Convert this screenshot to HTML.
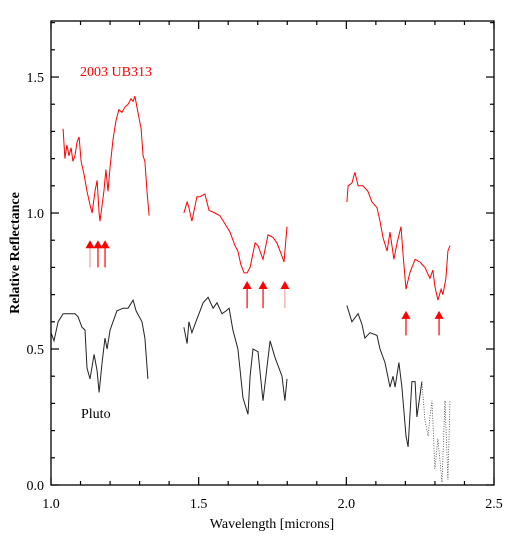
<!DOCTYPE html>
<html><head><meta charset="utf-8"><style>
html,body{margin:0;padding:0;background:#fff;}
svg{display:block;font-family:"Liberation Serif",serif;}
</style></head><body>
<svg id="chart" width="514" height="541" viewBox="0 0 514 541"></svg>
<script>
const xTicks=[1.0,1.5,2.0,2.5];
const yTicks=[0.0,0.5,1.0,1.5];
const xTickLabels=["1.0","1.5","2.0","2.5"];
const yTickLabels=["0.0","0.5","1.0","1.5"];
const redSeg1W=[1.041,1.047,1.054,1.061,1.068,1.074,1.081,1.088,1.095,1.102,1.112,1.122,1.132,1.139,1.149,1.156,1.163,1.166,1.173,1.179,1.186,1.193,1.2,1.21,1.22,1.23,1.24,1.251,1.261,1.271,1.278,1.284,1.291,1.298,1.305,1.312,1.318,1.325,1.332];
const redSeg1R=[1.31,1.20,1.25,1.21,1.24,1.19,1.21,1.26,1.28,1.19,1.14,1.08,1.03,1.00,1.08,1.12,1.00,0.97,1.03,1.08,1.16,1.08,1.17,1.27,1.34,1.38,1.37,1.39,1.40,1.42,1.41,1.43,1.39,1.35,1.31,1.21,1.19,1.08,0.99];
const redSeg2W=[1.450,1.461,1.467,1.477,1.494,1.505,1.521,1.535,1.555,1.572,1.589,1.606,1.623,1.633,1.643,1.654,1.664,1.674,1.691,1.701,1.718,1.735,1.752,1.765,1.779,1.789,1.799];
const redSeg2R=[1.00,1.04,1.02,0.97,1.06,1.06,1.07,1.01,1.00,0.99,0.96,0.93,0.88,0.86,0.81,0.78,0.78,0.80,0.89,0.88,0.83,0.92,0.91,0.89,0.85,0.82,0.95];
const redSeg3W=[2.002,2.006,2.019,2.029,2.040,2.056,2.073,2.087,2.104,2.114,2.124,2.138,2.148,2.161,2.172,2.185,2.192,2.202,2.215,2.233,2.249,2.266,2.283,2.293,2.300,2.310,2.321,2.327,2.337,2.344,2.351];
const redSeg3R=[1.04,1.10,1.11,1.15,1.10,1.10,1.08,1.04,1.02,0.97,0.91,0.86,0.93,0.83,0.89,0.95,0.85,0.72,0.78,0.83,0.82,0.80,0.76,0.79,0.73,0.68,0.72,0.70,0.76,0.86,0.88];
const blkSeg1W=[1.000,1.010,1.024,1.041,1.081,1.091,1.105,1.115,1.122,1.132,1.146,1.156,1.163,1.173,1.183,1.190,1.200,1.223,1.244,1.261,1.278,1.288,1.308,1.318,1.328];
const blkSeg1R=[0.56,0.53,0.60,0.63,0.63,0.62,0.58,0.57,0.43,0.39,0.48,0.42,0.34,0.45,0.54,0.50,0.57,0.64,0.65,0.65,0.68,0.64,0.60,0.54,0.39];
const blkSeg2W=[1.450,1.461,1.467,1.477,1.494,1.501,1.515,1.532,1.549,1.562,1.579,1.593,1.603,1.616,1.633,1.650,1.667,1.674,1.684,1.701,1.718,1.742,1.758,1.782,1.792,1.799];
const blkSeg2R=[0.58,0.52,0.60,0.56,0.61,0.63,0.67,0.69,0.65,0.67,0.63,0.64,0.65,0.57,0.50,0.32,0.26,0.40,0.50,0.49,0.31,0.53,0.47,0.40,0.31,0.39];
const blkSeg3W=[2.002,2.019,2.040,2.053,2.063,2.080,2.104,2.114,2.131,2.148,2.158,2.165,2.178,2.188,2.202,2.209,2.222,2.233,2.239,2.256];
const blkSeg3R=[0.66,0.60,0.63,0.59,0.54,0.56,0.55,0.50,0.45,0.36,0.40,0.36,0.45,0.36,0.18,0.14,0.38,0.38,0.25,0.38];
const blkSeg4W=[2.256,2.266,2.277,2.283,2.290,2.300,2.310,2.324,2.334,2.344,2.351];
const blkSeg4R=[0.38,0.24,0.18,0.25,0.31,0.06,0.17,0.01,0.31,0.02,0.31];
const arrowW=[1.132,1.159,1.183,1.664,1.718,1.792,2.202,2.314];
const arrowTop=[0.90,0.90,0.90,0.75,0.75,0.75,0.64,0.64];
const arrowBot=[0.80,0.80,0.80,0.65,0.65,0.65,0.55,0.55];
const arrowFaded=[true,false,false,false,false,true,false,false];

const L=51,R=494,T=21,B=485;
const X0=1.0,X1=2.5,Y0=0,Y1=1.706;
const sx=v=>L+(v-X0)/(X1-X0)*(R-L);
const sy=v=>B-(v-Y0)/(Y1-Y0)*(B-T);
const svg=document.getElementById('chart');
const NS='http://www.w3.org/2000/svg';
function mk(tag,attrs){const e=document.createElementNS(NS,tag);for(const k in attrs)e.setAttribute(k,attrs[k]);svg.appendChild(e);return e;}

function line(ws,rs,color,name,dash){
  const p=mk('polyline',{points:ws.map((w,i)=>sx(w).toFixed(1)+','+sy(rs[i]).toFixed(1)).join(' '),fill:'none',stroke:color,'stroke-width':dash?0.8:1,'stroke-dasharray':dash?'1,1.5':'none'});
  
  
}
line(redSeg1W,redSeg1R,'#f00','ub313-segment-j');
line(redSeg2W,redSeg2R,'#f00','ub313-segment-h');
line(redSeg3W,redSeg3R,'#f00','ub313-segment-k');
line(blkSeg1W,blkSeg1R,'#222','pluto-segment-j');
line(blkSeg2W,blkSeg2R,'#222','pluto-segment-h');
line(blkSeg3W,blkSeg3R,'#222','pluto-segment-k');
line(blkSeg4W,blkSeg4R,'#444','pluto-segment-k-noisy',true);

arrowW.forEach((w,i)=>{
  const c=arrowFaded[i]?'#f7a0a0':'#f00';
  const x=sx(w),yt=sy(arrowTop[i]),yb=sy(arrowBot[i]);
  const l=mk('line',{x1:x,y1:yt+6,x2:x,y2:yb,stroke:c,'stroke-width':1.2});
  
  
  const h=mk('polygon',{points:`${x-4.5},${yt+8} ${x+4.5},${yt+8} ${x},${yt}`,fill:'#f00'});
  
  
});

// frame
const fr=mk('rect',{x:L,y:T,width:R-L,height:B-T,fill:'none',stroke:'#000','stroke-width':1.3});


for(let k=0;k<=15;k++){
  const v=1.0+k*0.1,x=sx(v),maj=k%5===0,len=maj?8:4;
  const a=mk('line',{x1:x,y1:B,x2:x,y2:B-len,stroke:'#000','stroke-width':1.2});
  
  
  const b=mk('line',{x1:x,y1:T,x2:x,y2:T+len,stroke:'#000','stroke-width':1.2});
  
  
}
for(let k=0;k<=17;k++){
  const v=k*0.1,y=sy(v),maj=k%5===0,len=maj?8:4;
  const a=mk('line',{x1:L,y1:y,x2:L+len,y2:y,stroke:'#000','stroke-width':1.2});
  
  
  const b=mk('line',{x1:R,y1:y,x2:R-len,y2:y,stroke:'#000','stroke-width':1.2});
  
  
}
xTicks.forEach((v,i)=>{
  const t=mk('text',{x:sx(v),y:508,'text-anchor':'middle','font-size':14});
  t.textContent=xTickLabels[i];
  
  
});
yTicks.forEach((v,i)=>{
  const t=mk('text',{x:44,y:sy(v)+5,'text-anchor':'end','font-size':14});
  t.textContent=yTickLabels[i];
  
  
});
</script>
<svg style="position:absolute;left:0;top:0" width="514" height="541">
<text x="272" y="528" text-anchor="middle" font-size="14" font-family="Liberation Serif, serif">Wavelength [microns]</text>
<text transform="translate(19,253) rotate(-90)" text-anchor="middle" font-size="14" font-weight="bold" font-family="Liberation Serif, serif">Relative Reflectance</text>
<text x="80" y="76" font-size="14" fill="#f00" font-family="Liberation Serif, serif">2003 UB313</text>
<text x="81" y="418" font-size="14" font-family="Liberation Serif, serif">Pluto</text>
</svg>
</body></html>
